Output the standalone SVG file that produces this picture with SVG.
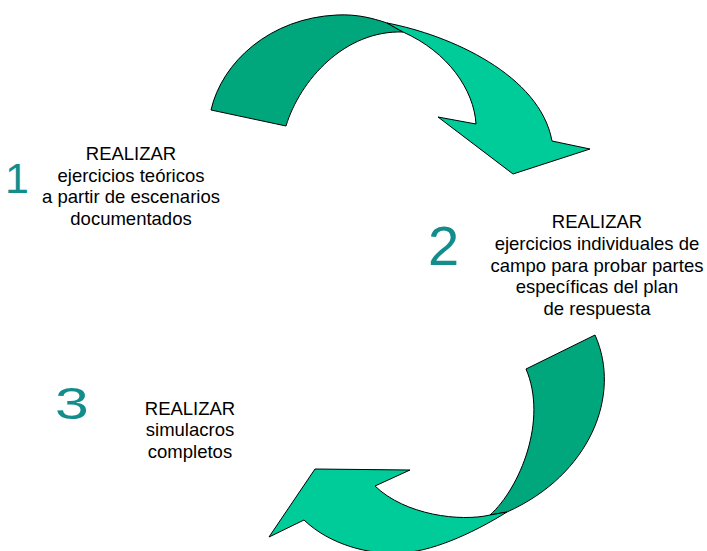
<svg xmlns="http://www.w3.org/2000/svg" width="707" height="551" viewBox="0 0 707 551">
<style>
.dark{fill:#00A67C;stroke:#000;stroke-width:1;stroke-linejoin:miter}
.light{fill:#00CC99;stroke:#000;stroke-width:1;stroke-linejoin:miter}
.t{font-family:"Liberation Sans",Arial,sans-serif;font-size:18.5px;fill:#000;text-anchor:middle}
.n{font-family:"Liberation Sans",Arial,sans-serif;fill:#138D8C}
</style>
<rect width="707" height="551" fill="#fff"/>
<g id="connectors">
  <g id="arrow-top">
    <path class="dark" d="M211,110 C222,62 270,18 337,15 C357,14 372,18 387,23 L403,32 C345,30 300,80 286,126 Z"/>
    <path class="light" d="M387,23 C450,35 540,75 552,141 L590,149 L513,174 L438,117 L476,124 C474,90 448,52 403,32 Z"/>
  </g>
  <g id="arrow-bottom">
    <path class="dark" d="M595,335 C622,395 590,475 507,512 L490,515 C520,488 548,420 526,369 Z"/>
    <path class="light" d="M507,512 L490,515 C460,522 405,515 375,486 L410,470 L315,469 L269,537 L304,520 C330,545 370,555 400,553 C430,552 470,535 507,512 Z"/>
  </g>
</g>
<g id="node1">
  <text class="n" x="5" y="193" font-size="43">1</text>
  <text class="t" x="131" y="160">REALIZAR</text>
  <text class="t" x="131" y="181.5">ejercicios teóricos</text>
  <text class="t" x="131" y="203">a partir de escenarios</text>
  <text class="t" x="131" y="224.5">documentados</text>
</g>
<g id="node2">
  <text class="n" x="428" y="265" font-size="56">2</text>
  <text class="t" x="597" y="228">REALIZAR</text>
  <text class="t" x="597" y="250">ejercicios individuales de</text>
  <text class="t" x="597" y="271.5">campo para probar partes</text>
  <text class="t" x="597" y="293">específicas del plan</text>
  <text class="t" x="597" y="315">de respuesta</text>
</g>
<g id="node3">
  <text class="n" font-size="45" transform="translate(55,419) scale(1.35,1)">3</text>
  <text class="t" x="190" y="414.5">REALIZAR</text>
  <text class="t" x="190" y="436">simulacros</text>
  <text class="t" x="190" y="457.5">completos</text>
</g>
</svg>
